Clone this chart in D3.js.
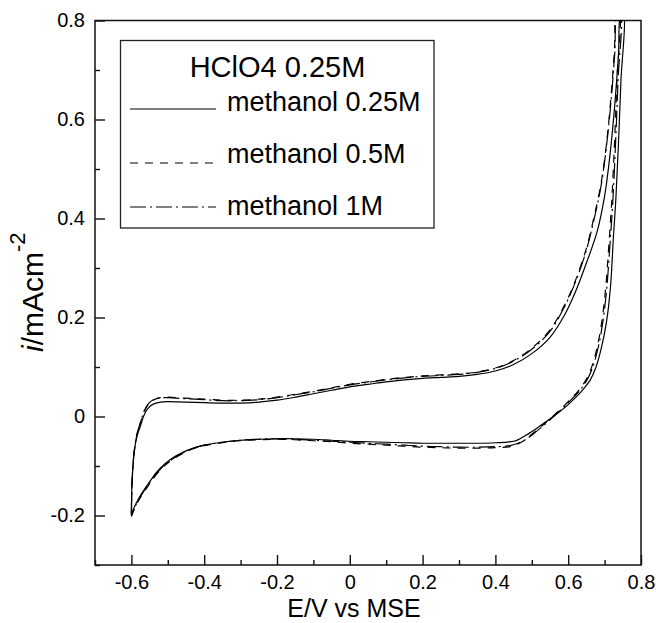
<!DOCTYPE html>
<html>
<head>
<meta charset="utf-8">
<script src="https://cdn.jsdelivr.net/npm/d3@7"></script>
<style>
  body { margin: 0; background: #fff; }
  svg { display: block; }
  text { font-family: "Liberation Sans", Arial, Helvetica, sans-serif; fill: #000; }
</style>
</head>
<body>
<svg id="chart" width="656" height="623"></svg>
<script>
// Axis ticks
const xTicks = [-0.6, -0.4, -0.2, 0, 0.2, 0.4, 0.6, 0.8];
const xMinorTicks = [-0.7, -0.5, -0.3, -0.1, 0.1, 0.3, 0.5, 0.7];
const yTicks = [-0.2, 0, 0.2, 0.4, 0.6, 0.8];
const yMinorTicks = [-0.3, -0.1, 0.1, 0.3, 0.5, 0.7];

// Legend text
const legendTitle = "HClO4 0.25M";
const seriesLabels = ["methanol 0.25M", "methanol 0.5M", "methanol 1M"];

// Cyclic voltammograms: [E (V vs MSE), i (mA cm^-2)], anodic sweep then cathodic sweep
const methanol025 = [
  [-0.600, -0.196], [-0.598, -0.130], [-0.592, -0.070], [-0.585, -0.041], [-0.576, -0.021],
  [-0.565, 0.003], [-0.555, 0.016], [-0.540, 0.025], [-0.520, 0.029], [-0.500, 0.030],
  [-0.450, 0.029], [-0.400, 0.028], [-0.350, 0.027], [-0.300, 0.027], [-0.250, 0.029],
  [-0.200, 0.033], [-0.150, 0.039], [-0.100, 0.046], [-0.050, 0.053], [0.000, 0.060],
  [0.050, 0.065], [0.100, 0.070], [0.150, 0.074], [0.200, 0.077], [0.250, 0.079],
  [0.300, 0.081], [0.350, 0.085], [0.400, 0.092], [0.450, 0.105], [0.500, 0.127],
  [0.550, 0.160], [0.590, 0.205], [0.620, 0.252], [0.650, 0.310], [0.680, 0.375],
  [0.700, 0.445], [0.715, 0.530], [0.728, 0.630], [0.738, 0.730], [0.745, 0.815],
  [0.752, 0.815], [0.745, 0.680], [0.738, 0.550], [0.731, 0.440], [0.724, 0.360],
  [0.716, 0.260], [0.705, 0.190], [0.690, 0.135], [0.675, 0.097], [0.660, 0.073],
  [0.640, 0.054], [0.620, 0.038], [0.600, 0.024], [0.577, 0.010], [0.555, -0.002],
  [0.532, -0.014], [0.510, -0.026], [0.486, -0.037], [0.465, -0.046], [0.450, -0.050],
  [0.400, -0.053], [0.350, -0.054], [0.300, -0.054], [0.250, -0.054], [0.200, -0.054],
  [0.150, -0.053], [0.100, -0.052], [0.050, -0.051], [0.000, -0.050], [-0.050, -0.048],
  [-0.100, -0.046], [-0.150, -0.045], [-0.200, -0.045], [-0.250, -0.046], [-0.300, -0.048],
  [-0.350, -0.052], [-0.400, -0.058], [-0.430, -0.064], [-0.460, -0.073], [-0.485, -0.083],
  [-0.510, -0.097], [-0.530, -0.112], [-0.550, -0.132], [-0.565, -0.148], [-0.578, -0.163],
  [-0.590, -0.180], [-0.600, -0.198]
];

const methanol05 = [
  [-0.600, -0.200], [-0.598, -0.130], [-0.592, -0.070], [-0.585, -0.038], [-0.576, -0.015],
  [-0.565, 0.010], [-0.553, 0.025], [-0.540, 0.033], [-0.520, 0.038], [-0.500, 0.039],
  [-0.450, 0.037], [-0.400, 0.035], [-0.350, 0.033], [-0.300, 0.033], [-0.250, 0.035],
  [-0.200, 0.039], [-0.150, 0.045], [-0.100, 0.051], [-0.050, 0.058], [0.000, 0.065],
  [0.050, 0.070], [0.100, 0.075], [0.150, 0.079], [0.200, 0.082], [0.250, 0.084],
  [0.300, 0.086], [0.350, 0.090], [0.400, 0.098], [0.450, 0.113], [0.500, 0.138],
  [0.550, 0.175], [0.590, 0.225], [0.620, 0.275], [0.650, 0.340], [0.670, 0.400],
  [0.690, 0.470], [0.705, 0.550], [0.718, 0.650], [0.727, 0.740], [0.733, 0.815],
  [0.740, 0.815], [0.734, 0.680], [0.727, 0.550], [0.720, 0.440], [0.712, 0.350],
  [0.703, 0.260], [0.692, 0.190], [0.678, 0.135], [0.663, 0.097], [0.648, 0.073],
  [0.628, 0.052], [0.608, 0.036], [0.588, 0.021], [0.566, 0.006], [0.545, -0.008],
  [0.523, -0.022], [0.500, -0.036], [0.480, -0.048], [0.460, -0.056], [0.440, -0.061],
  [0.400, -0.063], [0.350, -0.064], [0.300, -0.064], [0.250, -0.063], [0.200, -0.062],
  [0.150, -0.060], [0.100, -0.058], [0.050, -0.056], [0.000, -0.054], [-0.050, -0.051],
  [-0.100, -0.049], [-0.150, -0.047], [-0.200, -0.046], [-0.250, -0.047], [-0.300, -0.049],
  [-0.350, -0.053], [-0.400, -0.059], [-0.430, -0.065], [-0.460, -0.075], [-0.485, -0.086],
  [-0.510, -0.100], [-0.530, -0.116], [-0.550, -0.136], [-0.565, -0.152], [-0.578, -0.167],
  [-0.590, -0.184], [-0.600, -0.202]
];

const methanol1 = [
  [-0.600, -0.198], [-0.598, -0.128], [-0.592, -0.068], [-0.585, -0.036], [-0.576, -0.014],
  [-0.565, 0.011], [-0.553, 0.026], [-0.540, 0.034], [-0.520, 0.038], [-0.500, 0.038],
  [-0.450, 0.036], [-0.400, 0.034], [-0.350, 0.032], [-0.300, 0.032], [-0.250, 0.034],
  [-0.200, 0.038], [-0.150, 0.044], [-0.100, 0.050], [-0.050, 0.057], [0.000, 0.064],
  [0.050, 0.069], [0.100, 0.074], [0.150, 0.078], [0.200, 0.081], [0.250, 0.083],
  [0.300, 0.085], [0.350, 0.089], [0.400, 0.097], [0.450, 0.112], [0.500, 0.136],
  [0.550, 0.172], [0.590, 0.222], [0.620, 0.272], [0.650, 0.336], [0.670, 0.395],
  [0.690, 0.465], [0.705, 0.545], [0.718, 0.640], [0.728, 0.735], [0.735, 0.815],
  [0.743, 0.815], [0.737, 0.680], [0.730, 0.550], [0.723, 0.440], [0.715, 0.350],
  [0.706, 0.260], [0.695, 0.190], [0.681, 0.135], [0.666, 0.097], [0.651, 0.073],
  [0.631, 0.052], [0.611, 0.036], [0.591, 0.021], [0.569, 0.006], [0.548, -0.008],
  [0.526, -0.022], [0.503, -0.036], [0.482, -0.047], [0.462, -0.054], [0.440, -0.059],
  [0.400, -0.061], [0.350, -0.062], [0.300, -0.062], [0.250, -0.061], [0.200, -0.060],
  [0.150, -0.058], [0.100, -0.056], [0.050, -0.054], [0.000, -0.052], [-0.050, -0.050],
  [-0.100, -0.048], [-0.150, -0.046], [-0.200, -0.045], [-0.250, -0.046], [-0.300, -0.048],
  [-0.350, -0.052], [-0.400, -0.058], [-0.430, -0.064], [-0.460, -0.074], [-0.485, -0.085],
  [-0.510, -0.099], [-0.530, -0.114], [-0.550, -0.134], [-0.565, -0.150], [-0.578, -0.165],
  [-0.590, -0.182], [-0.600, -0.200]
];

const seriesData = [methanol025, methanol05, methanol1];
const seriesDash = [null, "8,7", "16,4,2,4"];

const svg = d3.select("#chart");
const margin = { left: 95, right: 15, top: 20.5, bottom: 58 };
const W = 656, H = 623;
const x = d3.scaleLinear().domain([-0.7, 0.8]).range([margin.left, W - margin.right]);
const y = d3.scaleLinear().domain([-0.3, 0.8]).range([H - margin.bottom, margin.top]);

const fmt = d => d === 0 ? "0" : d.toFixed(1);

// clip region for the curves
svg.append("defs").append("clipPath").attr("id", "plotClip")
  .append("rect")
  .attr("x", x(-0.7)).attr("y", y(0.8))
  .attr("width", x(0.8) - x(-0.7)).attr("height", y(-0.3) - y(0.8));

// x axis: major and minor ticks pointing inward
const xAxis = svg.append("g")
  .attr("transform", `translate(0,${y(-0.3)})`)
  .call(d3.axisBottom(x).tickValues(xTicks).tickSize(-10).tickPadding(10).tickFormat(fmt));
const xMinor = svg.append("g")
  .attr("transform", `translate(0,${y(-0.3)})`)
  .call(d3.axisBottom(x).tickValues(xMinorTicks).tickSize(-5).tickFormat(""));

// y axis
const yAxis = svg.append("g")
  .attr("transform", `translate(${x(-0.7)},0)`)
  .call(d3.axisLeft(y).tickValues(yTicks).tickSize(-10).tickPadding(10).tickFormat(fmt));
const yMinor = svg.append("g")
  .attr("transform", `translate(${x(-0.7)},0)`)
  .call(d3.axisLeft(y).tickValues(yMinorTicks).tickSize(-5).tickFormat(""));

[xAxis, xMinor, yAxis, yMinor].forEach(g => {
  g.select(".domain").remove();
  g.selectAll(".tick line").attr("stroke", "#111").attr("stroke-width", 1.4);
  g.selectAll(".tick text").attr("font-size", 20).attr("fill", "#000")
    .style("font-family", '"Liberation Sans", Arial, sans-serif');
});

// frame
svg.append("rect")
  .attr("x", x(-0.7)).attr("y", y(0.8))
  .attr("width", x(0.8) - x(-0.7)).attr("height", y(-0.3) - y(0.8))
  .attr("fill", "none").attr("stroke", "#111").attr("stroke-width", 1.5);

// curves
const line = d3.line()
  .x(d => x(d[0])).y(d => y(d[1]))
  .curve(d3.curveCatmullRom.alpha(0.5));

const curves = svg.append("g").attr("clip-path", "url(#plotClip)");
seriesData.forEach((data, k) => {
  curves.append("path")
    .datum(data)
    .attr("d", line)
    .attr("fill", "none")
    .attr("stroke", "#000")
    .attr("stroke-width", 1.2)
    .attr("stroke-dasharray", seriesDash[k]);
});

// axis titles
svg.append("text")
  .attr("x", 354).attr("y", 617)
  .attr("text-anchor", "middle")
  .attr("font-size", 25)
  .text("E/V vs MSE");

const yTitle = svg.append("text")
  .attr("transform", "translate(43,352) rotate(-90)")
  .attr("font-size", 30);
yTitle.append("tspan").attr("font-style", "italic").text("i");
yTitle.append("tspan").text("/mAcm");
yTitle.append("tspan").attr("font-size", 22).attr("dy", -18).text("-2");

// legend
const legend = svg.append("g");
legend.append("rect")
  .attr("x", 120.5).attr("y", 40.5).attr("width", 313.5).attr("height", 187.5)
  .attr("fill", "#fff").attr("stroke", "#222").attr("stroke-width", 1.3);
legend.append("text")
  .attr("x", 277.5).attr("y", 77)
  .attr("text-anchor", "middle")
  .attr("font-size", 29)
  .text(legendTitle);

const legendLineY = [109, 163, 207];
const legendTextY = [111, 163, 215];
seriesLabels.forEach((label, k) => {
  legend.append("line")
    .attr("x1", 130).attr("x2", 216)
    .attr("y1", legendLineY[k]).attr("y2", legendLineY[k])
    .attr("stroke", "#000").attr("stroke-width", 1.2)
    .attr("stroke-dasharray", seriesDash[k]);
  legend.append("text")
    .attr("x", 227).attr("y", legendTextY[k])
    .attr("font-size", 27)
    .text(label);
});
</script>
</body>
</html>
